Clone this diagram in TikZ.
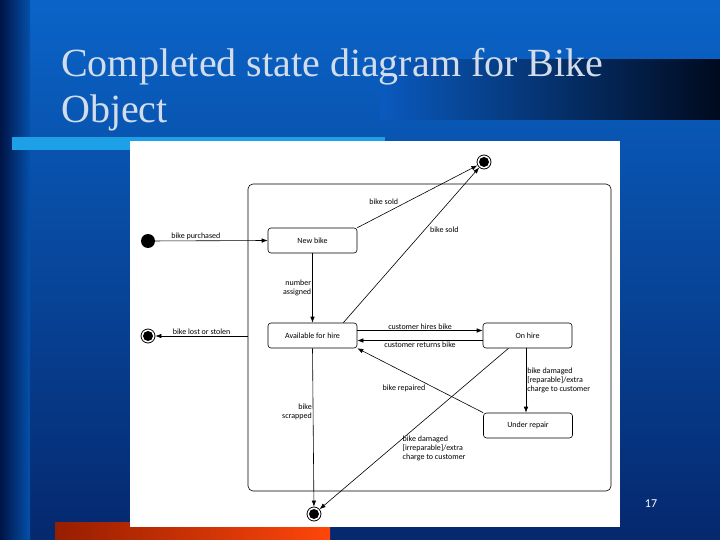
\documentclass[tikz,border=0pt]{standalone}
\usepackage{fontspec}
\setmainfont{Liberation Serif}
\newfontfamily\lab{Carlito}
\usetikzlibrary{arrows.meta,shadings}
\definecolor{bgtop}{RGB}{10,100,200}
\definecolor{bgbot}{RGB}{5,40,110}
\definecolor{stripL}{RGB}{0,20,70}
\definecolor{stripR}{RGB}{5,80,170}
\definecolor{barL}{RGB}{10,90,190}
\definecolor{barR}{RGB}{0,10,30}
\definecolor{lineblue}{RGB}{30,160,230}
\definecolor{redL}{RGB}{150,30,0}
\definecolor{redR}{RGB}{255,70,10}
\definecolor{titlec}{RGB}{210,220,235}
\begin{document}
\begin{tikzpicture}[x=1pt,y=-1pt,
  st/.style={draw,rounded corners=3pt,minimum width=89pt,minimum height=25pt,font=\lab\fontsize{8}{9}\selectfont,fill=white,line width=0.6pt},
  lb/.style={font=\lab\fontsize{8}{9}\selectfont,align=left,inner sep=1pt},
  ar/.style={-{Latex[length=6pt,width=4.5pt]},line width=0.6pt},
  fin/.style={circle,draw,line width=0.8pt,minimum size=14pt,inner sep=0pt}]
\useasboundingbox (0,0) rectangle (720,540);
\shade[top color=bgtop, bottom color=bgbot] (0,0) rectangle (720,540);
\shade[left color=stripL, right color=stripR] (0,0) rectangle (30,540);
\shade[left color=barL, right color=barR] (380,60) rectangle (720,120);
\fill[lineblue] (12,137) rectangle (385,150);
\shade[left color=redL, right color=redR] (55,522) rectangle (330,540);
\node[anchor=north west,text=titlec,font=\fontsize{40}{46}\selectfont,align=left,inner sep=0pt] (title) at (61,48) {Completed state diagram for Bike\\Object};
\fill[white] (130,141) rectangle (620,527);
\node[text=white,font=\lab\fontsize{12}{13}\selectfont] (pg) at (651,504) {17};
\draw[rounded corners=5pt,line width=0.6pt] (248,184) rectangle (611,491);
\coordinate (cl) at (248,336);
\node[st] (nb) at (312.5,240.5) {New bike};
\node[st] (av) at (312.5,335.5) {Available for hire};
\node[st] (oh) at (527.5,335.5) {On hire};
\node[st] (ur) at (528,425.5) {Under repair};
\fill (148,241) circle (7pt) coordinate (init);
\node[fin] (f1) at (484,162) {};
\node[fin] (f2) at (148,336) {};
\node[fin] (f3) at (314,514) {};
\foreach \f in {f1,f2,f3} \fill (\f.center) circle (5pt);
\draw[ar] (init) -- node[lb,above,pos=0.4]{bike purchased} (nb.west);
\draw[ar] (nb.north east) -- node[lb,above left,pos=0.35]{bike sold} (f1);
\draw[ar] ([xshift=-14pt]av.north east) -- node[lb,right,pos=0.6,xshift=4pt]{bike sold} (f1);
\draw[ar] (nb.south) -- node[lb,left,align=right]{number\\assigned} (av.north);
\draw[ar] (cl) -- node[lb,above]{bike lost or stolen} (f2);
\draw[ar] ([yshift=5pt]av.east) -- node[lb,above]{customer hires bike} ([yshift=5pt]oh.west);
\draw[ar] ([yshift=-5pt]oh.west) -- node[lb,below]{customer returns bike} ([yshift=-5pt]av.east);
\draw[ar] (av.south) -- node[lb,left,align=right,pos=0.4]{bike\\scrapped} (f3);
\draw[ar] ([xshift=-1.5pt]oh.south) -- node[lb,right]{bike damaged\\{[}reparable{]}/extra\\charge to customer} ([xshift=-2pt]ur.north);
\draw[ar] (ur.north west) -- node[lb,below left,pos=0.45]{bike repaired} (av.south east);
\draw[ar] ([xshift=-19pt]oh.south) -- node[lb,right,pos=0.62,xshift=10pt]{bike damaged\\{[}irreparable{]}/extra\\charge to customer} (f3);
\end{tikzpicture}
\end{document}
